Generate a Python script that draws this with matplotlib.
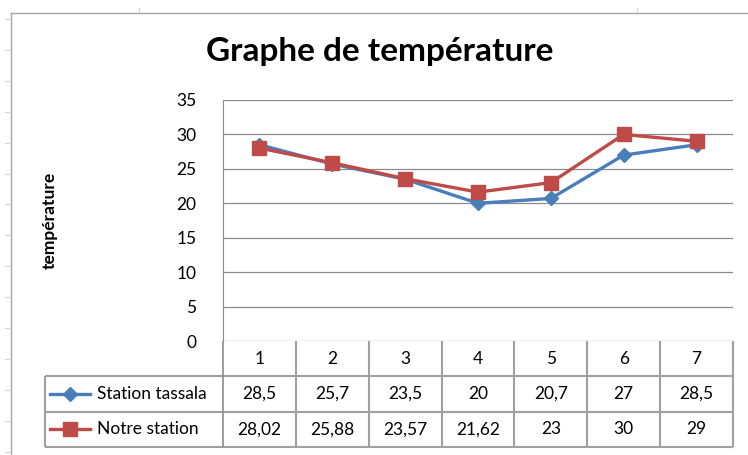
import numpy as np
import matplotlib.pyplot as plt
from matplotlib.lines import Line2D

plt.rcParams['font.family'] = ['Lato', 'DejaVu Sans']

# Relevés de température par jour
jours = [1, 2, 3, 4, 5, 6, 7]
station_tassala = [28.5, 25.7, 23.5, 20, 20.7, 27, 28.5]
notre_station = [28.02, 25.88, 23.57, 21.62, 23, 30, 29]
series_noms = ["Station tassala", "Notre station"]

BLEU = '#4A7EBB'
ROUGE = '#BE4B48'
GRIS = '#A0A0A0'
TAILLE = 12.5

W, H = 748, 455


def fx(px):
    return px / W


def fy(py):
    return 1 - py / H


def virgule(v):
    return f"{v:g}".replace('.', ',')


fig = plt.figure(figsize=(W / 100, H / 100), dpi=100)

# Zone de tracé
ax = fig.add_axes([fx(223), fy(341), fx(733) - fx(223), fy(100) - fy(341)])
ax.plot(jours, station_tassala, color=BLEU, lw=2.4, marker='D', ms=7,
        label=series_noms[0], zorder=3)
ax.plot(jours, notre_station, color=ROUGE, lw=2.4, marker='s', ms=10,
        label=series_noms[1], zorder=4)
ax.set_xlim(0.5, 7.5)
ax.set_ylim(0, 35)
ax.set_yticks(np.arange(0, 36, 5))
ax.set_xticks([])
ax.yaxis.grid(True, color='#8C8C8C', lw=0.9)
ax.set_axisbelow(True)
for s in ['top', 'right', 'bottom']:
    ax.spines[s].set_visible(False)
ax.spines['left'].set_color('#8C8C8C')
ax.tick_params(axis='y', length=0, pad=19, labelsize=TAILLE)
for t in ax.get_yticklabels():
    t.set_horizontalalignment('right')

# Tableau de données sous le graphique
col_w = (733 - 223) / 7
gauche = 0.5 - (223 - 45) / col_w
tab = fig.add_axes([fx(45), fy(447), fx(733) - fx(45), fy(341) - fy(447)])
tab.set_xlim(gauche, 7.5)
tab.set_ylim(0, 3)
tab.axis('off')
tab.hlines([0, 1, 2], gauche, 7.5, color=GRIS, lw=1.5, clip_on=False)
tab.vlines(np.arange(1.5, 8.5, 1), 0, 3, color=GRIS, lw=1.5, clip_on=False)
tab.vlines(0.5, 0, 3, color='#8C8C8C', lw=1.2, clip_on=False)
tab.vlines(gauche, 0, 2, color=GRIS, lw=1.5, clip_on=False)

for j in jours:
    tab.text(j, 2.5, str(j), ha='center', va='center', fontsize=TAILLE)
for j, a, b in zip(jours, station_tassala, notre_station):
    tab.text(j, 1.5, virgule(a), ha='center', va='center', fontsize=TAILLE)
    tab.text(j, 0.5, virgule(b), ha='center', va='center', fontsize=TAILLE)

x0 = gauche + 5 / col_w
x1 = gauche + 45 / col_w
for y, nom, c, m, ms in [(1.5, series_noms[0], BLEU, 'D', 7),
                         (0.5, series_noms[1], ROUGE, 's', 10)]:
    tab.plot([x0, x1], [y, y], color=c, lw=2.4, clip_on=False)
    tab.plot([(x0 + x1) / 2], [y], color=c, marker=m, ms=ms, clip_on=False)
    tab.text(gauche + 52 / col_w, y, nom, ha='left', va='center', fontsize=TAILLE)

# Titres
fig.text(fx(380), fy(52), "Graphe de température", ha='center', va='center',
         fontsize=24, fontweight='bold')
fig.text(fx(50), fy(220), "température", ha='center', va='center',
         rotation=90, fontsize=12.5, fontweight='bold')

# Cadre du graphique et repères de la feuille
fig.add_artist(Line2D([fx(10.5), fx(10.5)], [0, fy(12.5)], color='#A6A6A6', lw=1))
fig.add_artist(Line2D([fx(10.5), 1], [fy(12.5), fy(12.5)], color='#A6A6A6', lw=1))
for y in np.arange(19, 455, 30.9):
    fig.add_artist(Line2D([fx(5), fx(9)], [fy(y), fy(y)], color='#D4D4D4', lw=0.8))
for x in [139, 637]:
    fig.add_artist(Line2D([fx(x), fx(x)], [fy(8), fy(12)], color='#D4D4D4', lw=0.8))

fig.savefig('out.png', dpi=100)
